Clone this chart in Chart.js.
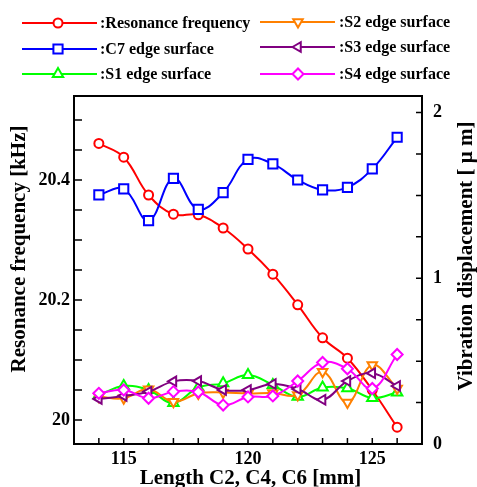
<!DOCTYPE html>
<html><head><meta charset="utf-8">
<script src="https://cdn.jsdelivr.net/npm/chart.js@4"></script>
<style>html,body{margin:0;padding:0;background:#fff;overflow:hidden}#wrap{width:477px;height:487px;position:relative}</style>
</head><body><div id="wrap"><canvas id="c" width="477" height="487"></canvas></div>
<script>
// ---- data ----
const lengths = [114,115,116,117,118,119,120,121,122,123,124,125,126];
const resonanceFreq = [20.461,20.438,20.375,20.343,20.342,20.320,20.285,20.243,20.192,20.137,20.103,20.050,19.988];
const c7Edge = [1.503,1.539,1.348,1.603,1.416,1.517,1.718,1.690,1.593,1.533,1.549,1.660,1.851];
const s1Edge = [0.296,0.350,0.326,0.247,0.341,0.366,0.416,0.356,0.285,0.341,0.336,0.278,0.311];
const s2Edge = [0.285,0.276,0.331,0.255,0.305,0.311,0.305,0.308,0.296,0.436,0.250,0.477,0.335];
const s3Edge = [0.272,0.290,0.316,0.378,0.380,0.326,0.326,0.362,0.332,0.267,0.380,0.427,0.350];
const s4Edge = [0.306,0.326,0.276,0.316,0.314,0.235,0.284,0.290,0.380,0.492,0.454,0.335,0.540];
const seriesNames = [':Resonance frequency',':C7 edge surface',':S1 edge surface',':S2 edge surface',':S3 edge surface',':S4 edge surface'];
const xTicks = [114,115,116,117,118,119,120,121,122,123,124,125,126];
const xLabels = [115,120,125];
const leftTicks = [20,20.05,20.1,20.15,20.2,20.25,20.3,20.35,20.4,20.45,20.5];
const leftLabels = [20,20.2,20.4];
const rightTicks = [0,0.25,0.5,0.75,1,1.25,1.5,1.75,2];
const rightLabels = [0,1,2];
const titles = {x:'Length C2, C4, C6 [mm]', yl:'Resonance frequency [kHz]', yr:'Vibration displacement [ \u03bc m]'};

const FONT = '"Liberation Serif","Times New Roman",serif';
const pts = (arr)=>arr.map((v,i)=>({x:lengths[i], y:v}));

function ds(label, data, color, style, radius, axis, rot, order){
  return {label, data:pts(data), yAxisID:axis, borderColor:color, backgroundColor:'#fff',
    borderWidth:2, pointStyle:style, pointRadius:radius, pointHoverRadius:radius,
    pointBorderWidth:2, pointBorderColor:color, pointBackgroundColor:'#fff',
    pointRotation:rot||0, tension:0.4, fill:false, order:order};
}

const datasets = [
  ds(seriesNames[0], resonanceFreq, '#ff0000', 'circle', 4.5, 'y', 0, 10),
  ds(seriesNames[1], c7Edge, '#0000ff', 'rect', 6.5, 'y1', 0, 5),
  ds(seriesNames[2], s1Edge, '#00ff00', 'triangle', 6, 'y1', 0, 4),
  ds(seriesNames[3], s2Edge, '#ff8000', 'triangle', 5.5, 'y1', 180, 3),
  ds(seriesNames[4], s3Edge, '#800080', 'triangle', 5.5, 'y1', 270, 2),
  ds(seriesNames[5], s4Edge, '#ff00ff', 'rectRot', 5.5, 'y1', 0, 1),
];

const legendPos = [
  {x1:22,x2:97,mx:58,tx:100,y:23},
  {x1:22,x2:97,mx:58,tx:100,y:49},
  {x1:22,x2:97,mx:58,tx:100,y:74},
  {x1:260,x2:335,mx:298,tx:339,y:22},
  {x1:260,x2:335,mx:298,tx:339,y:47},
  {x1:260,x2:335,mx:298,tx:339,y:74},
];

function marker(ctx, d, x, y){
  ctx.save();
  ctx.fillStyle = '#fff'; ctx.strokeStyle = d.borderColor; ctx.lineWidth = 2;
  if (Chart.helpers && Chart.helpers.drawPoint) {
    Chart.helpers.drawPoint(ctx, {pointStyle:d.pointStyle, rotation:d.pointRotation, radius:d.pointRadius, borderWidth:2}, x, y);
  } else {
    ctx.beginPath(); ctx.arc(x,y,d.pointRadius,0,Math.PI*2); ctx.fill(); ctx.stroke();
  }
  ctx.restore();
}

const decor = {
  id:'decor',
  afterDraw(chart){
    const ctx = chart.ctx, a = chart.chartArea;
    const sx = chart.scales.x, yl = chart.scales.y, yr = chart.scales.y1;
    ctx.save();
    ctx.strokeStyle = '#000'; ctx.lineWidth = 1.5;
    ctx.beginPath();
    xTicks.forEach(v=>{const p=sx.getPixelForValue(v); ctx.moveTo(p,a.bottom); ctx.lineTo(p,a.bottom-6);});
    leftTicks.forEach(v=>{const p=yl.getPixelForValue(v); ctx.moveTo(a.left,p); ctx.lineTo(a.left+8,p);});
    rightTicks.forEach(v=>{const p=yr.getPixelForValue(v); ctx.moveTo(a.right,p); ctx.lineTo(a.right-6,p);});
    ctx.stroke();
    ctx.lineWidth = 2;
    ctx.strokeRect(a.left, a.top, a.right-a.left, a.bottom-a.top);
    // titles
    ctx.fillStyle = '#000';
    ctx.font = 'bold 21px ' + FONT;
    ctx.textAlign = 'center'; ctx.textBaseline = 'middle';
    ctx.save(); ctx.translate(20, 249); ctx.rotate(-Math.PI/2); ctx.fillText(titles.yl, 0, 0); ctx.restore();
    ctx.save(); ctx.translate(467, 256); ctx.rotate(-Math.PI/2); ctx.fillText(titles.yr, 0, 0); ctx.restore();
    ctx.textBaseline = 'alphabetic';
    ctx.fillText(titles.x, 250.5, 484);
    // legend
    ctx.font = 'bold 16px ' + FONT;
    ctx.textAlign = 'left'; ctx.textBaseline = 'middle';
    chart.data.datasets.forEach((d,i)=>{
      const L = legendPos[i];
      ctx.strokeStyle = d.borderColor; ctx.lineWidth = 2;
      ctx.beginPath(); ctx.moveTo(L.x1, L.y); ctx.lineTo(L.x2, L.y); ctx.stroke();
      marker(ctx, d, L.mx, L.y);
      ctx.fillStyle = '#000';
      ctx.fillText(d.label, L.tx, L.y+1);
    });
    ctx.restore();
  }
};

const tickFont = {family:FONT, size:18, weight:'bold'};
const near = (arr,v)=>arr.some(t=>Math.abs(t-v)<1e-6);

new Chart(document.getElementById('c'), {
  type:'line',
  data:{datasets},
  options:{
    responsive:false, animation:false, devicePixelRatio:1,
    layout:{padding:{top:96,left:0,right:0,bottom:0}},
    plugins:{legend:{display:false}, tooltip:{enabled:false}},
    scales:{
      x:{type:'linear', min:113, max:127,
        afterBuildTicks:(s)=>{s.ticks = xTicks.map(v=>({value:v}));},
        afterFit:(s)=>{s.height = 43;},
        grid:{display:false, drawTicks:false}, border:{display:false},
        ticks:{font:tickFont, color:'#000', padding:5, maxRotation:0, autoSkip:false,
          callback:(v)=>near(xLabels,v)?String(v):''}},
      y:{type:'linear', position:'left', min:19.96, max:20.54,
        afterBuildTicks:(s)=>{s.ticks = leftTicks.map(v=>({value:v}));},
        afterFit:(s)=>{s.width = 74;},
        grid:{display:false, drawTicks:false}, border:{display:false},
        ticks:{font:tickFont, color:'#000', padding:4, autoSkip:false,
          callback:(v)=>near(leftLabels,v)?String(Math.round(v*10)/10):''}},
      y1:{type:'linear', position:'right', min:0, max:2.1,
        afterBuildTicks:(s)=>{s.ticks = rightTicks.map(v=>({value:v}));},
        afterFit:(s)=>{s.width = 55;},
        grid:{display:false, drawTicks:false}, border:{display:false},
        ticks:{font:tickFont, color:'#000', padding:11, autoSkip:false,
          callback:(v)=>near(rightLabels,v)?String(v):''}}
    }
  },
  plugins:[decor]
});
</script></body></html>
